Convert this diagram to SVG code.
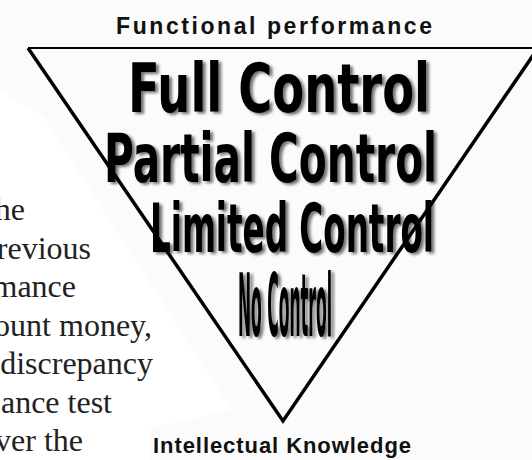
<svg xmlns="http://www.w3.org/2000/svg" width="532" height="460" viewBox="0 0 532 460">
  <defs>
    <style>
      .para { font-family: "Liberation Serif", "Times New Roman", serif; font-size: 32px; fill: #222; }
      .head { font-family: "Liberation Sans", Arial, sans-serif; font-weight: bold; font-size: 23px; fill: #111; }
      .lvl { font-family: "DejaVu Sans", "Liberation Sans", sans-serif; font-weight: bold; font-size: 67px; fill: #000; filter: url(#sh); }
      .edge { fill: none; stroke: #000; stroke-linejoin: miter; }
    </style>
    <filter id="sh" x="-5%" y="-15%" width="115%" height="135%">
      <feGaussianBlur in="SourceAlpha" stdDeviation="1.4" result="b"/>
      <feOffset in="b" dx="2.5" dy="2" result="o"/>
      <feComponentTransfer in="o" result="g">
        <feFuncA type="linear" slope="0.55"/>
      </feComponentTransfer>
      <feGaussianBlur in="SourceGraphic" stdDeviation="0.5" result="s"/>
      <feMerge>
        <feMergeNode in="g"/>
        <feMergeNode in="s"/>
      </feMerge>
    </filter>
  </defs>

  <rect x="0" y="0" width="532" height="460" fill="#ffffff"/>
  <polygon points="0,0 532,0 532,460 150,460 150,428 232,410 44,118 0,90" fill="#fbfbfb"/>

  <g id="paragraph">
    <text class="para" x="25" y="220" text-anchor="end">he</text>
    <text class="para" x="91" y="258.5" text-anchor="end">revious</text>
    <text class="para" x="76" y="297" text-anchor="end">mance</text>
    <text class="para" x="152" y="335.5" text-anchor="end">ount money,</text>
    <text class="para" x="153" y="374" text-anchor="end">discrepancy</text>
    <text class="para" x="112" y="412.5" text-anchor="end">ance test</text>
    <text class="para" x="83" y="451" text-anchor="end">ver the</text>
  </g>

  <g id="triangle">
    <line class="edge" x1="28" y1="48" x2="532" y2="48" stroke-width="2"/>
    <polyline class="edge" points="28,48 283,421 538,48" stroke-width="3.5"/>
  </g>

  <g id="title-top">
    <text class="head" x="116" y="34" textLength="316" lengthAdjust="spacing">Functional performance</text>
  </g>

  <g id="level-full">
    <text class="lvl" x="128" y="112" textLength="302" lengthAdjust="spacingAndGlyphs">Full Control</text>
  </g>
  <g id="level-partial">
    <text class="lvl" x="104" y="182" textLength="333" lengthAdjust="spacingAndGlyphs">Partial Control</text>
  </g>
  <g id="level-limited">
    <text class="lvl" x="150" y="252" textLength="284" lengthAdjust="spacingAndGlyphs">Limited Control</text>
  </g>
  <g id="level-none">
    <text class="lvl" x="238" y="336" textLength="94" lengthAdjust="spacingAndGlyphs" style="font-size:88px">No Control</text>
  </g>

  <g id="title-bottom">
    <text class="head" x="153" y="453" textLength="258" lengthAdjust="spacing" style="font-size:22px">Intellectual Knowledge</text>
  </g>

  <g id="connectors"/>
</svg>
